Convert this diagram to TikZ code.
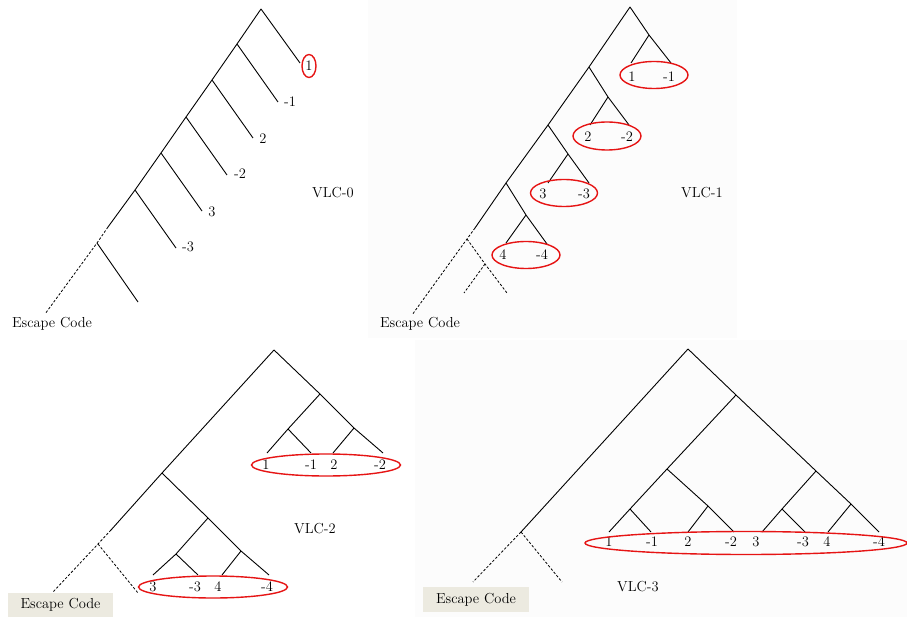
\documentclass[tikz,border=0pt]{standalone}
\usetikzlibrary{shapes.geometric}
\definecolor{escfill}{RGB}{236,234,224}
\definecolor{paneltint}{RGB}{252,252,252}
\definecolor{ringred}{RGB}{230,20,20}
\begin{document}
\begin{tikzpicture}[x=1pt,y=-1pt,
  br/.style={draw=black, line width=0.9pt},
  dsh/.style={draw=black, line width=0.8pt, dash pattern=on 2.5pt off 1.8pt},
  lab/.style={font=\fontsize{14.5}{16}\selectfont, inner sep=0pt, text=black},
  ring/.style={draw=ringred, line width=1.4pt, ellipse, inner sep=0pt},
  escbox/.style={fill=escfill, inner sep=0pt, font=\fontsize{14.5}{16}\selectfont}]
\useasboundingbox (0,0) rectangle (907,617);
\clip (0,0) rectangle (907,617);
\fill[white] (0,0) rectangle (907,617);
\fill[paneltint] (368,0) rectangle (737,338);
\fill[paneltint] (415,340) rectangle (907,617);

% ---------------- VLC-0 ----------------
\coordinate (a0) at (261,9);
\coordinate (a1) at (237,44);
\coordinate (a2) at (212,80);
\coordinate (a3) at (186,117);
\coordinate (a4) at (161,153);
\coordinate (a5) at (135,190);
\coordinate (ad) at (108,227);
\coordinate (a6) at (97,243);
\coordinate (ae) at (45,314);
\coordinate (b0) at (300,63);
\coordinate (b1) at (278,102);
\coordinate (b2) at (253,138);
\coordinate (b3) at (227,175);
\coordinate (b4) at (202,211);
\coordinate (b5) at (176,248);
\coordinate (b6) at (138,302);
\draw[br] (a0) -- (a1) -- (a2) -- (a3) -- (a4) -- (a5) -- (ad);
\draw[dsh] (ad) -- (a6) -- (ae);
\draw[br] (a0) -- (b0);
\draw[br] (a1) -- (b1);
\draw[br] (a2) -- (b2);
\draw[br] (a3) -- (b3);
\draw[br] (a4) -- (b4);
\draw[br] (a5) -- (b5);
\draw[br] (a6) -- (b6);
\node[lab] (l0a) at (309,66) {1};
\node[ring, minimum width=14pt, minimum height=23pt] (r0a) at (309,66) {};
\node[lab] (l0b) at (290,102) {-1};
\node[lab] (l0c) at (263,139) {2};
\node[lab] (l0d) at (240,174) {-2};
\node[lab] (l0e) at (212,212) {3};
\node[lab] (l0f) at (188,247) {-3};
\node[lab] (v0) at (333,193) {VLC-0};
\node[lab] (e0) at (52,324) {Escape Code};

% ---------------- VLC-1 ----------------
\coordinate (c0) at (630,7);
\coordinate (c0r) at (649,35);
\coordinate (c0rl) at (631,63);
\coordinate (c0rr) at (671,63);
\coordinate (c1) at (589,67);
\coordinate (c1r) at (608,97);
\coordinate (c1rl) at (590,125);
\coordinate (c1rr) at (629,125);
\coordinate (c2) at (548,125);
\coordinate (c2r) at (568,154);
\coordinate (c2rl) at (548,183);
\coordinate (c2rr) at (589,183);
\coordinate (c3) at (506,183);
\coordinate (c3r) at (526,215);
\coordinate (c3rl) at (506,243);
\coordinate (c3rr) at (547,244);
\coordinate (cd) at (475,228);
\coordinate (c4) at (467,239);
\coordinate (ce) at (412,315);
\coordinate (c4r) at (507,293);
\coordinate (c4m) at (485,264);
\coordinate (c4ml) at (464,293);
\draw[br] (c0) -- (c1) -- (c2) -- (c3) -- (cd);
\draw[dsh] (cd) -- (c4) -- (ce);
\draw[br] (c0) -- (c0r) -- (c0rr);
\draw[br] (c0r) -- (c0rl);
\draw[br] (c1) -- (c1r) -- (c1rr);
\draw[br] (c1r) -- (c1rl);
\draw[br] (c2) -- (c2r) -- (c2rr);
\draw[br] (c2r) -- (c2rl);
\draw[br] (c3) -- (c3r) -- (c3rr);
\draw[br] (c3r) -- (c3rl);
\draw[dsh] (c4) -- (c4m) -- (c4r);
\draw[dsh] (c4m) -- (c4ml);
\node[lab] (l1a) at (632,77) {1};
\node[lab] (l1b) at (669,77) {-1};
\node[ring, minimum width=68pt, minimum height=27pt] (r1a) at (654,75) {};
\node[lab] (l1c) at (588,137) {2};
\node[lab] (l1d) at (627,137) {-2};
\node[ring, minimum width=68pt, minimum height=28pt] (r1b) at (607,136) {};
\node[lab] (l1e) at (543,194) {3};
\node[lab] (l1f) at (584,194) {-3};
\node[ring, minimum width=67pt, minimum height=27pt] (r1c) at (564,193) {};
\node[lab] (l1g) at (503,255) {4};
\node[lab] (l1h) at (542,255) {-4};
\node[ring, minimum width=68pt, minimum height=27pt] (r1d) at (526,255) {};
\node[lab] (v1) at (702,193) {VLC-1};
\node[lab] (e1) at (420,324) {Escape Code};

% ---------------- VLC-2 ----------------
\coordinate (d0) at (274,350);
\coordinate (d0r) at (320,394);
\coordinate (d0rl) at (288,429);
\coordinate (d0rr) at (354,428);
\coordinate (p1) at (267,453);
\coordinate (p2) at (311,453);
\coordinate (p3) at (333,453);
\coordinate (p4) at (383,453);
\coordinate (d1) at (162,473);
\coordinate (d1r) at (208,518);
\coordinate (d1rl) at (176,554);
\coordinate (d1rr) at (241,551);
\coordinate (q1) at (153,575);
\coordinate (q2) at (198,575);
\coordinate (q3) at (222,575);
\coordinate (q4) at (269,575);
\coordinate (dd) at (111,530);
\coordinate (d2) at (98,544);
\coordinate (de) at (53,592);
\coordinate (d2r) at (138,593);
\draw[br] (d0) -- (d1) -- (dd);
\draw[dsh] (dd) -- (d2) -- (de);
\draw[dsh] (d2) -- (d2r);
\draw[br] (d0) -- (d0r) -- (d0rr) -- (p4);
\draw[br] (d0r) -- (d0rl) -- (p1);
\draw[br] (d0rl) -- (p2);
\draw[br] (d0rr) -- (p3);
\draw[br] (d1) -- (d1r) -- (d1rr) -- (q4);
\draw[br] (d1r) -- (d1rl) -- (q1);
\draw[br] (d1rl) -- (q2);
\draw[br] (d1rr) -- (q3);
\node[lab] (l2a) at (266,465) {1};
\node[lab] (l2b) at (311,465) {-1};
\node[lab] (l2c) at (334,465) {2};
\node[lab] (l2d) at (380,465) {-2};
\node[ring, minimum width=149pt, minimum height=22pt] (r2a) at (326,465) {};
\node[lab] (l2e) at (153,587) {3};
\node[lab] (l2f) at (195,587) {-3};
\node[lab] (l2g) at (218,587) {4};
\node[lab] (l2h) at (267,587) {-4};
\node[ring, minimum width=149pt, minimum height=22pt] (r2b) at (213,587) {};
\node[lab] (v2) at (315,529) {VLC-2};
\node[escbox, minimum width=105pt, minimum height=24pt] (e2) at (60.5,605) {Escape Code};

% ---------------- VLC-3 ----------------
\coordinate (f0) at (688,349);
\coordinate (f0r) at (736,395);
\coordinate (f1) at (667,469);
\coordinate (f2) at (816,471);
\coordinate (f1l) at (630,509);
\coordinate (f1r) at (708,506);
\coordinate (f2l) at (782,509);
\coordinate (f2r) at (851,504);
\coordinate (s1) at (609,532);
\coordinate (s2) at (651,532);
\coordinate (s3) at (688,532);
\coordinate (s4) at (734,532);
\coordinate (s5) at (762,532);
\coordinate (s6) at (805,532);
\coordinate (s7) at (828,532);
\coordinate (s8) at (879,532);
\coordinate (fm) at (521,532);
\coordinate (fe) at (473,582);
\coordinate (fr) at (562,582);
\draw[br] (f0) -- (fm);
\draw[dsh] (fm) -- (fe);
\draw[dsh] (fm) -- (fr);
\draw[br] (f0) -- (f0r) -- (f2) -- (f2r) -- (s8);
\draw[br] (f0r) -- (f1) -- (f1l) -- (s1);
\draw[br] (f1l) -- (s2);
\draw[br] (f1) -- (f1r) -- (s4);
\draw[br] (f1r) -- (s3);
\draw[br] (f2) -- (f2l) -- (s5);
\draw[br] (f2l) -- (s6);
\draw[br] (f2r) -- (s7);
\node[lab] (l3a) at (609,542) {1};
\node[lab] (l3b) at (652,542) {-1};
\node[lab] (l3c) at (688,542) {2};
\node[lab] (l3d) at (731,542) {-2};
\node[lab] (l3e) at (756,542) {3};
\node[lab] (l3f) at (803,542) {-3};
\node[lab] (l3g) at (827,542) {4};
\node[lab] (l3h) at (879,542) {-4};
\node[ring, minimum width=322pt, minimum height=23pt] (r3a) at (746,543) {};
\node[lab] (v3) at (638,587) {VLC-3};
\node[escbox, minimum width=106pt, minimum height=25pt] (e3) at (476,599.5) {Escape Code};
\end{tikzpicture}
\end{document}
